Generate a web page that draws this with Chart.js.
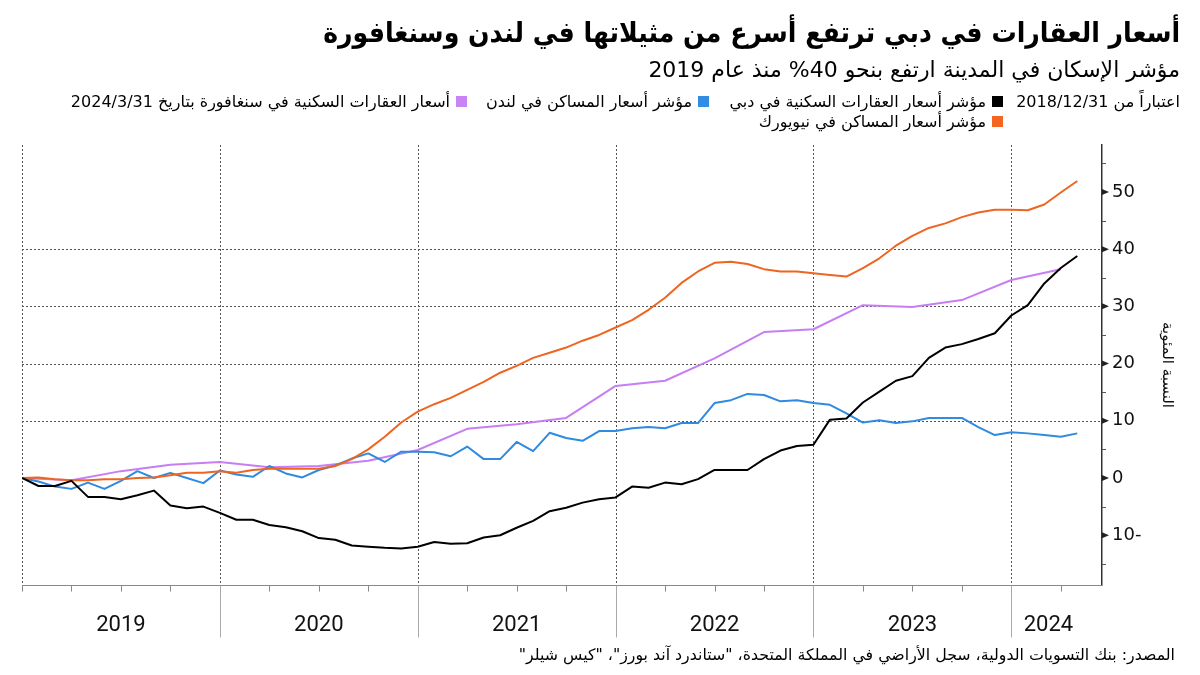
<!DOCTYPE html>
<html><head><meta charset="utf-8">
<script src="https://cdn.jsdelivr.net/npm/chart.js@4"></script>
<style>
html,body{margin:0;padding:0;background:#fff;}
body{width:1200px;height:675px;position:relative;overflow:hidden;font-family:"DejaVu Sans",sans-serif;color:#000;}
#c{position:absolute;left:0;top:0;width:1200px;height:675px;}
.t{position:absolute;right:20px;direction:rtl;white-space:nowrap;transform-origin:right top;}
#title{top:16px;font-weight:bold;font-size:28px;transform:scaleX(0.9);}
#sub{top:57px;font-size:22px;}
.leg{position:absolute;direction:rtl;white-space:nowrap;font-size:16px;line-height:20px;}
.sq{display:inline-block;width:11px;height:11px;margin-left:6px;vertical-align:0px;}
#src{top:645px;font-size:15.8px;right:25px;}
</style></head>
<body>
<canvas id="c" width="1200" height="675"></canvas>
<div class="t" id="title">أسعار العقارات في دبي ترتفع أسرع من مثيلاتها في لندن وسنغافورة</div>
<div class="t" id="sub">مؤشر الإسكان في المدينة ارتفع بنحو 40% منذ عام 2019</div>
<div class="leg" style="right:20px;top:92px">اعتباراً من 2018/12/31</div>
<div class="leg" style="right:197px;top:92px"><span class="sq" style="background:#000"></span>مؤشر أسعار العقارات السكنية في دبي</div>
<div class="leg" style="right:491px;top:92px"><span class="sq" style="background:#2f8de4"></span>مؤشر أسعار المساكن في لندن</div>
<div class="leg" style="right:733px;top:92px"><span class="sq" style="background:#c883f4"></span>أسعار العقارات السكنية في سنغافورة بتاريخ 2024/3/31</div>
<div class="leg" style="right:197px;top:112px"><span class="sq" style="background:#f26522"></span>مؤشر أسعار المساكن في نيويورك</div>
<div class="t" id="src">المصدر: بنك التسويات الدولية، سجل الأراضي في المملكة المتحدة، "ستاندرد آند بورز"، "كيس شيلر"</div>
<script>
// monthly values, index 0 = 2018/12/31
const dubai = [0,-1.4,-1.4,-0.5,-3.3,-3.3,-3.7,-3.0,-2.2,-4.8,-5.3,-5.0,-6.1,-7.3,-7.3,-8.2,-8.6,-9.3,-10.5,-10.8,-11.8,-12.0,-12.2,-12.3,-12.0,-11.2,-11.5,-11.4,-10.4,-10.0,-8.7,-7.5,-5.8,-5.2,-4.3,-3.7,-3.4,-1.5,-1.7,-0.8,-1.1,-0.2,1.4,1.4,1.4,3.3,4.8,5.6,5.8,10.2,10.4,13.2,15.1,17.0,17.8,21.0,22.8,23.4,24.3,25.3,28.4,30.2,34.0,36.7,38.8];
const london = [0,-0.6,-1.5,-1.9,-0.8,-1.9,-0.5,1.2,0,0.9,0,-0.9,1.3,0.6,0.2,2.1,0.8,0.1,1.4,2.2,3.4,4.3,2.8,4.6,4.6,4.5,3.8,5.5,3.3,3.3,6.3,4.7,7.9,7.0,6.5,8.2,8.2,8.7,8.9,8.7,9.6,9.6,13.1,13.6,14.7,14.5,13.4,13.6,13.1,12.8,11.3,9.7,10.1,9.6,9.9,10.5,10.5,10.5,8.9,7.5,8.0,7.8,7.5,7.2,7.8];
const newYork = [0,0.1,-0.2,-0.4,-0.4,-0.2,-0.2,0,0.1,0.5,0.9,0.9,1.2,0.9,1.4,1.6,1.6,1.6,1.6,2.1,3.3,5.0,7.2,9.7,11.6,12.9,14.0,15.4,16.8,18.4,19.6,21.0,21.9,22.8,24.0,25.0,26.3,27.6,29.4,31.5,34.1,36.1,37.6,37.8,37.4,36.5,36.1,36.1,35.8,35.5,35.2,36.7,38.4,40.6,42.3,43.7,44.5,45.6,46.4,46.9,46.9,46.8,47.8,49.9,51.9];
// quarterly values, index 0 = 2018 Q4
const singapore = [0,-0.4,1.2,2.3,2.8,1.9,2.1,3.0,4.9,8.6,9.4,10.5,16.1,17.0,20.9,25.5,26.0,30.2,29.9,31.1,34.6,36.5];
const years = ['2019','2020','2021','2022','2023','2024'];
const yTickValues = [-10,0,10,20,30,40,50];
const gridValues = [10,20,30,40];

const monthly = arr => arr.map((v,i)=>({x:i,y:v}));
const quarterly = arr => arr.map((v,i)=>({x:i*3,y:v}));
const lastMonth = dubai.length - 1;

const gridPlugin = {
  id:'customGrid',
  beforeDatasetsDraw(chart){
    const {ctx, chartArea:a, scales:{x,y}} = chart;
    ctx.save();
    ctx.lineWidth = 1;
    ctx.strokeStyle = '#555';
    ctx.setLineDash([2,2]);
    gridValues.forEach(v=>{
      const py = Math.round(y.getPixelForValue(v))+0.5;
      ctx.beginPath(); ctx.moveTo(a.left,py); ctx.lineTo(a.right,py); ctx.stroke();
    });
    years.forEach((yr,i)=>{
      const px = Math.round(x.getPixelForValue(i*12))+0.5;
      ctx.beginPath(); ctx.moveTo(px,a.top); ctx.lineTo(px,a.bottom); ctx.stroke();
    });
    ctx.setLineDash([]);
    ctx.strokeStyle = '#888';
    const by = Math.round(a.bottom)+0.5;
    ctx.beginPath(); ctx.moveTo(a.left,by); ctx.lineTo(a.right,by); ctx.stroke();
    for(let m=0; m<=lastMonth; m+=3){
      const px = Math.round(x.getPixelForValue(m))+0.5;
      ctx.beginPath(); ctx.moveTo(px,by); ctx.lineTo(px,by+6); ctx.stroke();
    }
    ctx.strokeStyle = '#aaa';
    years.forEach((yr,i)=>{
      if(i===0) return;
      const px = Math.round(x.getPixelForValue(i*12))+0.5;
      ctx.beginPath(); ctx.moveTo(px,by); ctx.lineTo(px,by+52); ctx.stroke();
    });
    ctx.fillStyle = '#111';
    ctx.font = '22px "Roboto", sans-serif';
    ctx.textAlign = 'center'; ctx.textBaseline = 'middle';
    years.forEach((yr,i)=>{
      const s = i*12, e = Math.min(s+12, lastMonth+0.5);
      ctx.fillText(yr, x.getPixelForValue((s+e)/2), 625);
    });
    ctx.fillStyle = '#222'; ctx.strokeStyle = '#555';
    const ax = Math.round(a.right);
    for(let v=-15; v<=55; v+=5){
      const py = y.getPixelForValue(v);
      if(v%10===0){
        ctx.beginPath(); ctx.moveTo(ax,py-3); ctx.lineTo(ax+7,py); ctx.lineTo(ax,py+3); ctx.closePath(); ctx.fill();
      } else {
        ctx.beginPath(); ctx.moveTo(ax,Math.round(py)+0.5); ctx.lineTo(ax+4,Math.round(py)+0.5); ctx.stroke();
      }
    }
    ctx.restore();
  }
};

new Chart(document.getElementById('c'), {
  type:'line',
  data:{datasets:[
    {label:'دبي', data:monthly(dubai), borderColor:'#000', borderWidth:2},
    {label:'نيويورك', data:monthly(newYork), borderColor:'#ee6521', borderWidth:2},
    {label:'لندن', data:monthly(london), borderColor:'#2f8ae0', borderWidth:2},
    {label:'سنغافورة', data:quarterly(singapore), borderColor:'#c77ef2', borderWidth:2}
  ]},
  options:{
    responsive:false, animation:false, devicePixelRatio:1,
    layout:{padding:{left:22, top:145, right:0, bottom:90}},
    elements:{point:{radius:0}, line:{tension:0, borderJoinStyle:'round', fill:false}},
    plugins:{legend:{display:false}, tooltip:{enabled:false}},
    scales:{
      x:{type:'linear', display:false, min:0, max:65.5},
      y:{position:'right', min:-18.7, max:58.2,
         afterFit(s){ s.width = 98; },
         grid:{display:false},
         border:{display:true, color:'#333', width:1.5},
         ticks:{stepSize:5, padding:2, color:'#111', font:{family:'"DejaVu Sans", sans-serif', size:18},
           callback:(v)=> (Math.abs(v%10)<1e-9 && yTickValues.includes(Math.round(v))) ? (v<0 ? Math.abs(v)+'-' : String(v)) : ''},
         title:{display:true, text:'النسبة المئوية', color:'#111', font:{family:'"DejaVu Sans", sans-serif', size:15}, padding:{top:24,bottom:0}}
      }
    }
  },
  plugins:[gridPlugin]
});
</script>
</body></html>
